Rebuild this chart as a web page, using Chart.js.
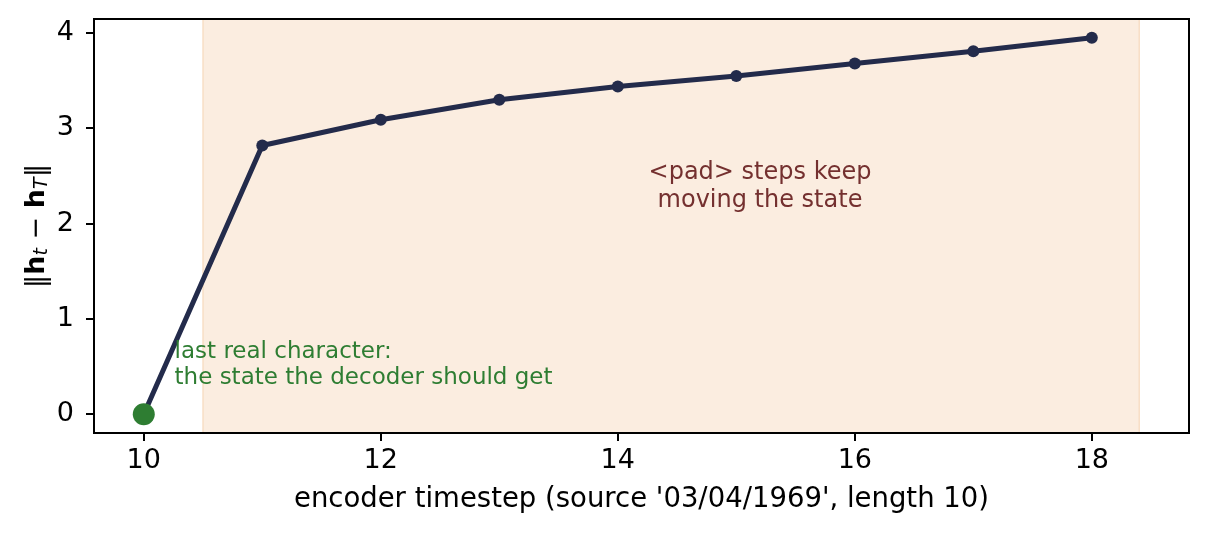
<!DOCTYPE html>
<html>
<head>
<meta charset="utf-8">
<script src="https://cdn.jsdelivr.net/npm/chart.js@4.4.1/dist/chart.umd.min.js"></script>
<style>
  html, body { margin: 0; padding: 0; background: #fff; }
</style>
</head>
<body>
<canvas id="normChart" width="1208" height="536"></canvas>
<script>
// values
const steps = [10, 11, 12, 13, 14, 15, 16, 17, 18];
const distances = [0, 2.82, 3.09, 3.30, 3.44, 3.55, 3.68, 3.81, 3.95];
const lastRealStep = [10];
const lastRealDistance = [0];
const padSpan = [10.5, 18.4];
const xTicks = [10, 12, 14, 16, 18];
const yTicks = [0, 1, 2, 3, 4];

const xLabel = "encoder timestep (source '03/04/1969', length 10)";
const realNote = ["last real character:", "the state the decoder should get"];
const padNote = ["<pad> steps keep", "moving the state"];

const FONT = "'DejaVu Sans', 'Noto Sans', sans-serif";
const NAVY = "#232b4b";
const GREEN = "#2e7d32";

// shaded region behind the line
const spanPlugin = {
    id: "padSpan",
    beforeDatasetsDraw(chart) {
        const { ctx, chartArea, scales } = chart;
        const x0 = scales.x.getPixelForValue(padSpan[0]);
        const x1 = scales.x.getPixelForValue(padSpan[1]);
        ctx.save();
        ctx.fillStyle = "#fbede0";
        ctx.fillRect(x0, chartArea.top, x1 - x0, chartArea.bottom - chartArea.top);
        ctx.strokeStyle = "#f8dfc6";
        ctx.lineWidth = 1.5;
        ctx.beginPath();
        ctx.moveTo(x0, chartArea.top);
        ctx.lineTo(x0, chartArea.bottom);
        ctx.moveTo(x1, chartArea.top);
        ctx.lineTo(x1, chartArea.bottom);
        ctx.stroke();
        ctx.restore();
    }
};

// text notes, frame and axis titles
const notesPlugin = {
    id: "notes",
    afterDatasetsDraw(chart) {
        const { ctx, scales } = chart;
        ctx.save();
        ctx.textBaseline = "middle";

        ctx.font = "23px " + FONT;
        ctx.fillStyle = GREEN;
        ctx.textAlign = "left";
        let gx = scales.x.getPixelForValue(10.26);
        let gy = scales.y.getPixelForValue(0.52);
        ctx.fillText(realNote[0], gx, gy - 13);
        ctx.fillText(realNote[1], gx, gy + 13);

        ctx.font = "24px " + FONT;
        ctx.fillStyle = "#74302f";
        ctx.textAlign = "center";
        let px = scales.x.getPixelForValue(15.2);
        let py = scales.y.getPixelForValue(2.39);
        ctx.fillText(padNote[0], px, py - 14);
        ctx.fillText(padNote[1], px, py + 14);
        ctx.restore();
    },
    afterDraw(chart) {
        const { ctx, chartArea } = chart;
        ctx.save();
        ctx.strokeStyle = "#000";
        ctx.lineWidth = 2;
        ctx.strokeRect(chartArea.left, chartArea.top,
            chartArea.right - chartArea.left, chartArea.bottom - chartArea.top);

        // x title
        ctx.fillStyle = "#000";
        ctx.font = "27.5px " + FONT;
        ctx.textAlign = "center";
        ctx.textBaseline = "middle";
        ctx.fillText(xLabel, (chartArea.left + chartArea.right) / 2, 500);

        // y title: ||h_t - h_T|| with bold h and italic subscripts
        const parts = [
            { t: "\u2016", f: "27px " + FONT, dy: 0 },
            { t: "h", f: "bold 27px " + FONT, dy: 0 },
            { t: "t", f: "italic 19px " + FONT, dy: 5 },
            { t: " \u2212 ", f: "27px " + FONT, dy: 0 },
            { t: "h", f: "bold 27px " + FONT, dy: 0 },
            { t: "T", f: "italic 19px " + FONT, dy: 5 },
            { t: "\u2016", f: "27px " + FONT, dy: 0 }
        ];
        let total = 0;
        parts.forEach(p => { ctx.font = p.f; p.w = ctx.measureText(p.t).width; total += p.w; });
        ctx.translate(37, (chartArea.top + chartArea.bottom) / 2);
        ctx.rotate(-Math.PI / 2);
        ctx.textAlign = "left";
        let cx = -total / 2;
        parts.forEach(p => {
            ctx.font = p.f;
            ctx.fillText(p.t, cx, p.dy);
            cx += p.w;
        });
        ctx.restore();
    }
};

new Chart(document.getElementById("normChart"), {
    type: "line",
    data: {
        datasets: [
            {
                label: "last real",
                data: lastRealStep.map((s, i) => ({ x: s, y: lastRealDistance[i] })),
                showLine: false,
                pointRadius: 11,
                pointBackgroundColor: GREEN,
                pointBorderWidth: 0,
                order: 0
            },
            {
                label: "distance",
                data: steps.map((s, i) => ({ x: s, y: distances[i] })),
                borderColor: NAVY,
                borderWidth: 5,
                pointRadius: 6,
                pointBackgroundColor: NAVY,
                pointBorderWidth: 0,
                tension: 0,
                order: 1
            }
        ]
    },
    options: {
        responsive: false,
        animation: false,
        layout: { padding: { top: 19, right: 19, left: 0, bottom: 0 } },
        plugins: {
            legend: { display: false },
            tooltip: { enabled: false }
        },
        scales: {
            x: {
                type: "linear",
                min: 9.58,
                max: 18.82,
                afterBuildTicks: s => { s.ticks = xTicks.map(v => ({ value: v })); },
                afterFit: s => { s.height = 103; s.paddingLeft = 0; s.paddingRight = 0; },
                grid: { drawOnChartArea: false, tickLength: 8, color: "#000", lineWidth: 2 },
                border: { display: true, color: "#000", width: 2 },
                ticks: { color: "#000", padding: 4, font: { family: FONT, size: 27 }, maxRotation: 0 }
            },
            y: {
                min: -0.1975,
                max: 4.1475,
                afterBuildTicks: s => { s.ticks = yTicks.map(v => ({ value: v })); },
                afterFit: s => { s.width = 94; s.paddingTop = 0; s.paddingBottom = 0; },
                grid: { drawOnChartArea: false, tickLength: 8, color: "#000", lineWidth: 2 },
                border: { display: true, color: "#000", width: 2 },
                ticks: { color: "#000", padding: 12, font: { family: FONT, size: 27 } }
            }
        }
    },
    plugins: [spanPlugin, notesPlugin]
});
</script>
</body>
</html>
